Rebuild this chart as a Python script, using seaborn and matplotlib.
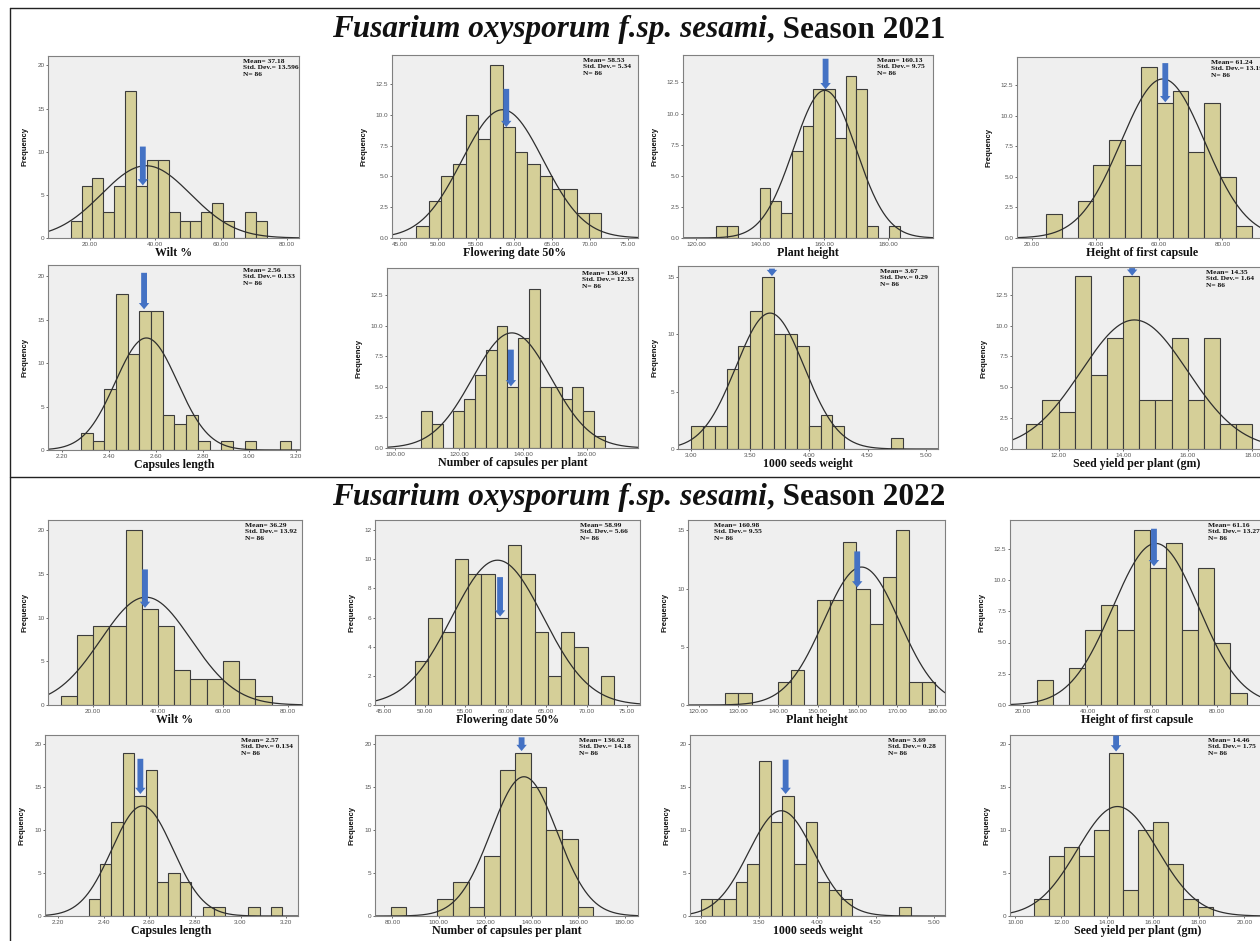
import numpy as np
import pandas as pd
import matplotlib
matplotlib.use("Agg")
import matplotlib.pyplot as plt
import seaborn as sns
from matplotlib.lines import Line2D

sns.set_theme(style="white")
plt.rcParams["font.family"] = ["Liberation Serif", "DejaVu Serif"]

# ---------------- data ----------------
title_species = "Fusarium oxysporum f.sp. sesami"
title_seasons = [", Season 2021", ", Season 2022"]
variables = ["Wilt %", "Flowering date 50%", "Plant height", "Height of first capsule",
             "Capsules length", "Number of capsules per plant", "1000 seeds weight",
             "Seed yield per plant (gm)"]
n_obs = 86

# Season 2021 bar counts
wilt_2021 = [2, 6, 7, 3, 6, 17, 6, 9, 9, 3, 2, 2, 3, 4, 2, 0, 3, 2]
flower_2021 = [1, 3, 5, 6, 10, 8, 14, 9, 7, 6, 5, 4, 4, 2, 2]
height_2021 = [1, 1, 0, 0, 4, 3, 2, 7, 9, 12, 12, 8, 13, 12, 1, 0, 1]
capheight_2021 = [2, 0, 3, 6, 8, 6, 14, 11, 12, 7, 11, 5, 1]
caplen_2021 = [2, 1, 7, 18, 11, 16, 16, 4, 3, 4, 1, 0, 1, 0, 1, 0, 0, 1]
capnum_2021 = [3, 2, 0, 3, 4, 6, 8, 10, 5, 9, 13, 5, 5, 4, 5, 3, 1]
seedwt_2021 = [2, 2, 2, 7, 9, 12, 15, 10, 10, 9, 2, 3, 2, 0, 0, 0, 0, 1]
yield_2021 = [2, 4, 3, 14, 6, 9, 14, 4, 4, 9, 4, 9, 2, 2]
bin_start_2021 = [14.2, 47.2, 126.25, 24.3, 2.28, 108.0, 3.0, 11.0]
bin_width_2021 = [3.32, 1.62, 3.37, 5.0, 0.05, 3.39, 0.1, 0.5]
mean_2021 = [37.18, 58.53, 160.13, 61.24, 2.56, 136.49, 3.67, 14.35]
sd_2021 = [13.596, 5.34, 9.75, 13.19, 0.133, 12.33, 0.29, 1.64]
arrow_x_2021 = [36.2, 59.0, 160.4, 62.0, 2.55, 136.2, 3.686, 14.28]
arrow_top_2021 = [10.6, 12.1, 14.4, 14.3, 20.4, 8.06, 15.7, 14.66]
arrow_tip_2021 = [6.1, 9.0, 11.95, 11.1, 16.2, 5.05, 15.05, 14.04]

# Season 2022 bar counts
wilt_2022 = [1, 8, 9, 9, 20, 11, 9, 4, 3, 3, 5, 3, 1]
flower_2022 = [3, 6, 5, 10, 9, 9, 6, 11, 9, 5, 2, 5, 4, 0, 2]
height_2022 = [1, 1, 0, 0, 2, 3, 0, 9, 9, 14, 10, 7, 11, 15, 2, 2]
capheight_2022 = [2, 0, 3, 6, 8, 6, 14, 11, 13, 6, 11, 5, 1]
caplen_2022 = [2, 6, 11, 19, 14, 17, 4, 5, 4, 0, 1, 1, 0, 0, 1, 0, 1]
capnum_2022 = [1, 0, 0, 2, 4, 1, 7, 17, 19, 15, 10, 9, 1]
seedwt_2022 = [2, 2, 2, 4, 6, 18, 11, 14, 6, 11, 4, 3, 2, 0, 0, 0, 0, 1]
yield_2022 = [2, 7, 8, 7, 10, 19, 3, 10, 11, 6, 2, 1]
bin_start_2022 = [10.0, 48.8, 126.7, 24.3, 2.334, 79.3, 3.0, 10.82]
bin_width_2022 = [5.0, 1.64, 3.3, 5.0, 0.05, 6.7, 0.1, 0.65]
mean_2022 = [36.29, 58.99, 160.98, 61.16, 2.57, 136.62, 3.69, 14.46]
sd_2022 = [13.92, 5.66, 9.55, 13.27, 0.134, 14.18, 0.28, 1.75]
arrow_x_2022 = [36.0, 59.3, 159.9, 60.6, 2.561, 135.6, 3.728, 14.4]
arrow_top_2022 = [15.5, 8.78, 13.2, 14.1, 18.3, 20.8, 18.2, 21.0]
arrow_tip_2022 = [11.1, 6.07, 10.1, 11.1, 14.2, 19.2, 14.2, 19.15]

# axis ticks / ranges
xticks_2021 = [[20, 40, 60, 80], [45, 50, 55, 60, 65, 70, 75], [120, 140, 160, 180], [20, 40, 60, 80],
               [2.2, 2.4, 2.6, 2.8, 3.0, 3.2], [100, 120, 140, 160], [3.0, 3.5, 4.0, 4.5, 5.0], [12, 14, 16, 18]]
xticks_2022 = [[20, 40, 60, 80], [45, 50, 55, 60, 65, 70, 75], [120, 130, 140, 150, 160, 170, 180], [20, 40, 60, 80],
               [2.2, 2.4, 2.6, 2.8, 3.0, 3.2], [80, 100, 120, 140, 160, 180], [3.0, 3.5, 4.0, 4.5, 5.0],
               [10, 12, 14, 16, 18, 20]]
yt_a = [0, 5, 10, 15, 20]
yt_b = [0, 2.5, 5.0, 7.5, 10.0, 12.5]
yticks_2021 = [yt_a, yt_b, yt_b, yt_b, yt_a, yt_b, [0, 5, 10, 15], yt_b]
yticks_2022 = [yt_a, [0, 2, 4, 6, 8, 10, 12], [0, 5, 10, 15], yt_b, yt_a, yt_a, yt_a, yt_a]
xlim_2021 = [(7.3, 83.8), (44.0, 76.3), (115.8, 194.0), (15.2, 94.1), (2.139, 3.217), (97.4, 176.0),
             (2.886, 5.10), (10.56, 18.3)]
xlim_2022 = [(6.1, 84.4), (43.84, 76.6), (117.3, 182.0), (16.0, 95.0), (2.143, 3.252), (72.5, 185.7),
             (2.907, 5.096), (9.77, 20.9)]
ytop_2021 = [21.1, 14.85, 14.7, 14.8, 21.3, 14.75, 15.93, 14.75]
ytop_2022 = [21.15, 12.7, 15.9, 14.8, 21.07, 21.07, 21.07, 21.07]

# ---------------- layout / style ----------------
W, H = 1260, 941
boxes_2021 = [(48, 56, 299, 238), (392, 55, 638, 238), (683, 55, 933, 238), (1017, 57, 1267, 238),
              (48, 265, 300, 450), (387, 268, 638, 448), (678, 266, 938, 449), (1012, 267, 1262, 449)]
boxes_2022 = [(48, 520, 302, 705), (375, 520, 640, 705), (688, 520, 945, 705), (1010, 520, 1265, 705),
              (45, 735, 298, 916), (375, 735, 638, 916), (690, 735, 945, 916), (1010, 735, 1265, 916)]
stat_pos_2021 = [0.775] * 8
stat_pos_2022 = [0.775] * 8
stat_pos_2022[2] = 0.10

BAR = "#D5CF98"
EDGE = "#3c3c3c"
CURVE = "#2e2e2e"
ARROW = "#4472C4"
PANEL_BG = "#EFEFEF"
FRAME = "#808080"

fig = plt.figure(figsize=(W / 100, H / 100), dpi=100)
fig.patch.set_facecolor("white")


def add_ax(box):
    l, t, r, b = box
    return fig.add_axes([l / W, 1 - b / H, (r - l) / W, (b - t) / H])


def draw_panel(box, counts, start, width, mean, sd, xt, yt, xl, ytop, label,
               ax_x, a_top, a_tip, stat_x):
    ax = add_ax(box)
    ax.set_facecolor(PANEL_BG)
    nb = len(counts)
    centers = [start + width * (k + 0.5) for k in range(nb)]
    df = pd.DataFrame({"val": centers, "freq": [float(c) for c in counts]})
    sns.histplot(data=df, x="val", weights="freq", binwidth=width,
                 binrange=(start, start + width * nb), ax=ax,
                 color=BAR, edgecolor=EDGE, linewidth=0.8, alpha=1)
    xs = np.linspace(xl[0], xl[1], 400)
    ys = n_obs * width * np.exp(-0.5 * ((xs - mean) / sd) ** 2) / (sd * np.sqrt(2 * np.pi))
    sns.lineplot(x=xs, y=ys, ax=ax, color=CURVE, linewidth=0.9)
    ax.annotate("", xy=(ax_x, a_tip), xytext=(ax_x, a_top),
                arrowprops=dict(arrowstyle="simple,head_width=0.75,head_length=0.45,tail_width=0.42",
                                color=ARROW, mutation_scale=10, shrinkA=0, shrinkB=0, lw=0))
    ax.set_xlim(*xl)
    ax.set_ylim(0, ytop)
    ax.set_xticks(xt)
    ax.set_xticklabels([f"{v:.2f}" for v in xt])
    ax.set_yticks(yt)
    if all(float(v).is_integer() for v in yt):
        ax.set_yticklabels([f"{int(v)}" for v in yt])
    else:
        ax.set_yticklabels([f"{v:.1f}" for v in yt])
    ax.tick_params(axis="both", which="both", labelsize=4.6, length=1.6, width=0.6,
                   colors="#555555", pad=1.0, direction="out", bottom=True, left=True)
    for lab in ax.get_xticklabels() + ax.get_yticklabels():
        lab.set_family(["Liberation Sans", "DejaVu Sans"])
    ax.set_xlabel(label, fontsize=8.6, fontweight="bold", labelpad=0.3, color="#111111")
    ax.set_ylabel("Frequency", fontsize=5.6, fontweight="bold", labelpad=6,
                  family=["Liberation Sans", "DejaVu Sans"], color="#111111")
    for s in ax.spines.values():
        s.set_color(FRAME)
        s.set_linewidth(0.8)
    ax.text(stat_x, 0.985, f"Mean= {mean}\nStd. Dev.= {sd}\nN= {n_obs}",
            transform=ax.transAxes, ha="left", va="top", fontsize=5.4, fontweight="bold",
            linespacing=1.35, color="#111111")
    return ax


sets = [
    (boxes_2021, [wilt_2021, flower_2021, height_2021, capheight_2021, caplen_2021, capnum_2021,
                  seedwt_2021, yield_2021], bin_start_2021, bin_width_2021, mean_2021, sd_2021,
     xticks_2021, yticks_2021, xlim_2021, ytop_2021, arrow_x_2021, arrow_top_2021, arrow_tip_2021,
     stat_pos_2021),
    (boxes_2022, [wilt_2022, flower_2022, height_2022, capheight_2022, caplen_2022, capnum_2022,
                  seedwt_2022, yield_2022], bin_start_2022, bin_width_2022, mean_2022, sd_2022,
     xticks_2022, yticks_2022, xlim_2022, ytop_2022, arrow_x_2022, arrow_top_2022, arrow_tip_2022,
     stat_pos_2022),
]

for (boxes, counts, starts, widths, means, sds, xts, yts, xls, ytops, axs, atops, atips, spos) in sets:
    for i in range(8):
        draw_panel(boxes[i], counts[i], starts[i], widths[i], means[i], sds[i], xts[i], yts[i],
                   xls[i], ytops[i], variables[i], axs[i], atops[i], atips[i], spos[i])

# titles
for yc, season in zip([30, 497], title_seasons):
    fig.text(767 / W, 1 - yc / H, title_species, ha="right", va="center", fontsize=22.5,
             fontweight="bold", style="italic", color="#111111")
    fig.text(767 / W, 1 - yc / H, season, ha="left", va="center", fontsize=22.5,
             fontweight="bold", color="#111111")

# frame lines
for (x0, y0, x1, y1) in [(10, 8, 1260, 8), (10, 8, 10, 941), (10, 477, 1260, 477)]:
    fig.add_artist(Line2D([x0 / W, x1 / W], [1 - y0 / H, 1 - y1 / H], color="#222222", lw=1.0))

fig.savefig("out.png", dpi=100, facecolor="white")
